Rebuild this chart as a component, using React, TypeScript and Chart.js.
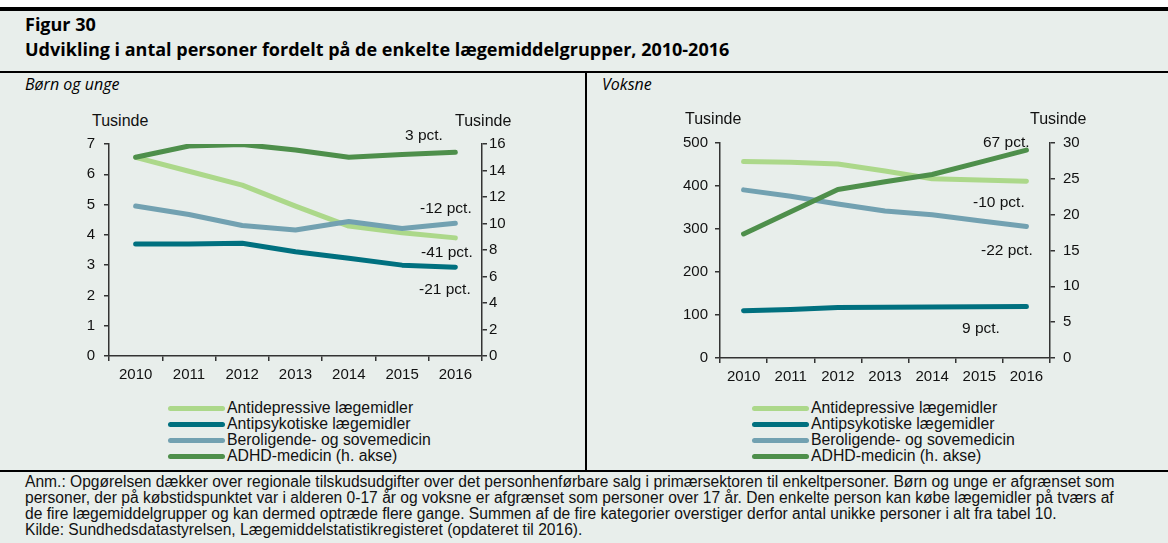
import React, { useEffect, useRef } from "react";
import { Chart, registerables } from "chart.js";
Chart.register(...registerables);

// ---------- data ----------
const years = ["2010", "2011", "2012", "2013", "2014", "2015", "2016"];
const seriesNames = [
  "Antidepressive lægemidler",
  "Antipsykotiske lægemidler",
  "Beroligende- og sovemedicin",
  "ADHD-medicin (h. akse)",
];
const childAntidepressive = [6.56, 6.1, 5.64, 4.95, 4.29, 4.07, 3.9];
const childAntipsychotic = [3.7, 3.7, 3.72, 3.44, 3.23, 3.0, 2.93];
const childSedative = [4.95, 4.67, 4.31, 4.16, 4.44, 4.21, 4.38];
const childADHD = [15.0, 15.85, 15.97, 15.55, 15.0, 15.2, 15.37];
const adultAntidepressive = [457, 455, 451, 435, 417, 414, 411];
const adultAntipsychotic = [110, 113, 117.5, 118, 118.5, 119, 120];
const adultSedative = [391, 376, 358, 342, 333, 319, 306];
const adultADHD = [17.3, 20.4, 23.5, 24.6, 25.6, 27.3, 29.0];
const childChangeLabels = ["3 pct.", "-12 pct.", "-41 pct.", "-21 pct."];
const adultChangeLabels = ["67 pct.", "-10 pct.", "-22 pct.", "9 pct."];
const unitLabel = "Tusinde";
const panelTitles = ["Børn og unge", "Voksne"];
const figLabel = "Figur 30";
const figTitle = "Udvikling i antal personer fordelt på de enkelte lægemiddelgrupper, 2010-2016";
const noteLines = [
  "Anm.: Opgørelsen dækker over regionale tilskudsudgifter over det personhenførbare salg i primærsektoren til enkeltpersoner. Børn og unge er afgrænset som",
  "personer, der på købstidspunktet var i alderen 0-17 år og voksne er afgrænset som personer over 17 år. Den enkelte person kan købe lægemidler på tværs af",
  "de fire lægemiddelgrupper og kan dermed optræde flere gange. Summen af de fire kategorier overstiger derfor antal unikke personer i alt fra tabel 10.",
  "Kilde:  Sundhedsdatastyrelsen, Lægemiddelstatistikregisteret (opdateret til 2016).",
];

// ---------- style ----------
const BG = "#e8eeeb";
const COLORS = ["#acd88a", "#00707f", "#72a1b1", "#4e8f4b"];
const AXIS = "#333333";
const TXT = "#111111";
const SANS = '"Liberation Sans", Arial, sans-serif';
const HEAD = '"Open Sans", Lato, sans-serif';

type ChartCfg = {
  values: number[][];
  leftMax: number;
  leftStep: number;
  rightMax: number;
  rightStep: number;
  leftW: number;
  rightW: number;
  topPad: number;
  xH: number;
  leftPad: number;
  rightPad: number;
  xPad: number;
};

function LineChart({ cfg, style }: { cfg: ChartCfg; style: React.CSSProperties }) {
  const ref = useRef<HTMLCanvasElement>(null);
  useEffect(() => {
    if (!ref.current) return;
    const font = { family: SANS, size: 15 };
    const fixY = (w: number) => (s: any) => {
      s.width = w;
      s.paddingTop = 0;
      s.paddingBottom = 0;
    };
    const chart = new Chart(ref.current, {
      type: "line",
      data: {
        labels: years,
        datasets: cfg.values.map((v, i) => ({
          label: seriesNames[i],
          data: v,
          borderColor: COLORS[i],
          backgroundColor: COLORS[i],
          borderWidth: 5,
          pointRadius: 0,
          tension: 0,
          borderCapStyle: "round" as const,
          borderJoinStyle: "round" as const,
          yAxisID: i === 3 ? "y2" : "y",
          order: i === 3 ? 0 : 4 - i,
        })),
      },
      options: {
        animation: false,
        responsive: false,
        maintainAspectRatio: false,
        layout: { padding: { top: cfg.topPad, left: 0, right: 0, bottom: 0 } },
        plugins: { legend: { display: false }, tooltip: { enabled: false } },
        scales: {
          x: {
            type: "category",
            offset: true,
            grid: { display: true, offset: true, drawOnChartArea: false, drawTicks: true, tickLength: 5, color: AXIS, lineWidth: 1.5 },
            border: { display: true, color: AXIS, width: 1.5 },
            ticks: { color: TXT, font, maxRotation: 0, autoSkip: false, padding: cfg.xPad },
            afterFit: (s: any) => { s.height = cfg.xH; },
          },
          y: {
            position: "left",
            min: 0,
            max: cfg.leftMax,
            grid: { display: true, drawOnChartArea: false, drawTicks: true, tickLength: 5, color: AXIS, lineWidth: 1.5 },
            border: { display: true, color: AXIS, width: 1.5 },
            ticks: { color: TXT, font, stepSize: cfg.leftStep, padding: cfg.leftPad },
            afterFit: fixY(cfg.leftW),
          },
          y2: {
            position: "right",
            min: 0,
            max: cfg.rightMax,
            grid: { display: true, drawOnChartArea: false, drawTicks: true, tickLength: 5, color: AXIS, lineWidth: 1.5 },
            border: { display: true, color: AXIS, width: 1.5 },
            ticks: { color: TXT, font, stepSize: cfg.rightStep, padding: cfg.rightPad },
            afterFit: fixY(cfg.rightW),
          },
        },
      },
    });
    return () => chart.destroy();
  }, []);
  const w = style.width as number;
  const h = style.height as number;
  return <canvas ref={ref} width={w} height={h} style={{ position: "absolute", ...style }} />;
}

function Txt({ x, y, children, size = 15.5, style }: any) {
  return (
    <div
      style={{
        position: "absolute",
        left: x,
        top: y - size / 2,
        height: size,
        lineHeight: `${size}px`,
        fontSize: size,
        fontFamily: SANS,
        color: TXT,
        whiteSpace: "nowrap",
        ...style,
      }}
    >
      {children}
    </div>
  );
}

function Legend({ x, y }: { x: number; y: number }) {
  return (
    <>
      {seriesNames.map((n, i) => (
        <React.Fragment key={n}>
          <div
            style={{
              position: "absolute",
              left: x,
              top: y + i * 16 - 2.5,
              width: 57,
              height: 5,
              borderRadius: 3,
              background: COLORS[i],
            }}
          />
          <Txt x={x + 59} y={y + i * 16} size={15.8}>{n}</Txt>
        </React.Fragment>
      ))}
    </>
  );
}

export default function App() {
  const childCfg: ChartCfg = {
    values: [childAntidepressive, childAntipsychotic, childSedative, childADHD],
    leftMax: 7, leftStep: 1, rightMax: 16, rightStep: 2,
    leftW: 69, rightW: 38, topPad: 14, xH: 34, leftPad: 9, rightPad: 2, xPad: 5,
  };
  const adultCfg: ChartCfg = {
    values: [adultAntidepressive, adultAntipsychotic, adultSedative, adultADHD],
    leftMax: 500, leftStep: 100, rightMax: 30, rightStep: 5,
    leftW: 100, rightW: 50, topPad: 13, xH: 32, leftPad: 7, rightPad: 8, xPad: 5,
  };
  const head = { fontFamily: HEAD, fontWeight: 700, color: "#000" };
  const ital = { fontFamily: HEAD, fontStyle: "italic", color: "#000" };
  return (
    <div style={{ position: "fixed", left: 0, top: 0, width: 1168, height: 543, background: "#fff", overflow: "hidden" }}>
      <div style={{ position: "absolute", left: 0, top: 7, width: 1168, height: 4, background: "#000" }} />
      <div style={{ position: "absolute", left: 0, top: 11, width: 1168, height: 532, background: BG }} />
      <Txt x={25} y={24} size={18} style={head}>{figLabel}</Txt>
      <Txt x={25} y={49} size={18} style={head}>{figTitle}</Txt>
      <div style={{ position: "absolute", left: 0, top: 71, width: 1168, height: 2, background: "#000" }} />
      <div style={{ position: "absolute", left: 585, top: 72, width: 2, height: 399, background: "#000" }} />
      <div style={{ position: "absolute", left: 0, top: 470, width: 1168, height: 2, background: "#000" }} />
      <Txt x={25} y={84} size={16} style={ital}>{panelTitles[0]}</Txt>
      <Txt x={602} y={84} size={16} style={ital}>{panelTitles[1]}</Txt>

      <LineChart cfg={childCfg} style={{ left: 40, top: 130, width: 480, height: 260 }} />
      <LineChart cfg={adultCfg} style={{ left: 620, top: 130, width: 480, height: 260 }} />

      <Txt x={92} y={121} size={16}>{unitLabel}</Txt>
      <Txt x={455} y={121} size={16}>{unitLabel}</Txt>
      <Txt x={685} y={119} size={16}>{unitLabel}</Txt>
      <Txt x={1030} y={119} size={16}>{unitLabel}</Txt>

      <Txt x={405} y={135}>{childChangeLabels[0]}</Txt>
      <Txt x={420} y={208}>{childChangeLabels[1]}</Txt>
      <Txt x={421} y={252}>{childChangeLabels[2]}</Txt>
      <Txt x={419} y={289}>{childChangeLabels[3]}</Txt>

      <Txt x={983} y={142}>{adultChangeLabels[0]}</Txt>
      <Txt x={973} y={202}>{adultChangeLabels[1]}</Txt>
      <Txt x={981} y={250}>{adultChangeLabels[2]}</Txt>
      <Txt x={962} y={328}>{adultChangeLabels[3]}</Txt>

      <Legend x={168} y={408} />
      <Legend x={752} y={408} />

      {noteLines.map((l, i) => (
        <Txt key={i} x={25} y={482 + i * 16} size={15.6}>{l}</Txt>
      ))}
    </div>
  );
}
